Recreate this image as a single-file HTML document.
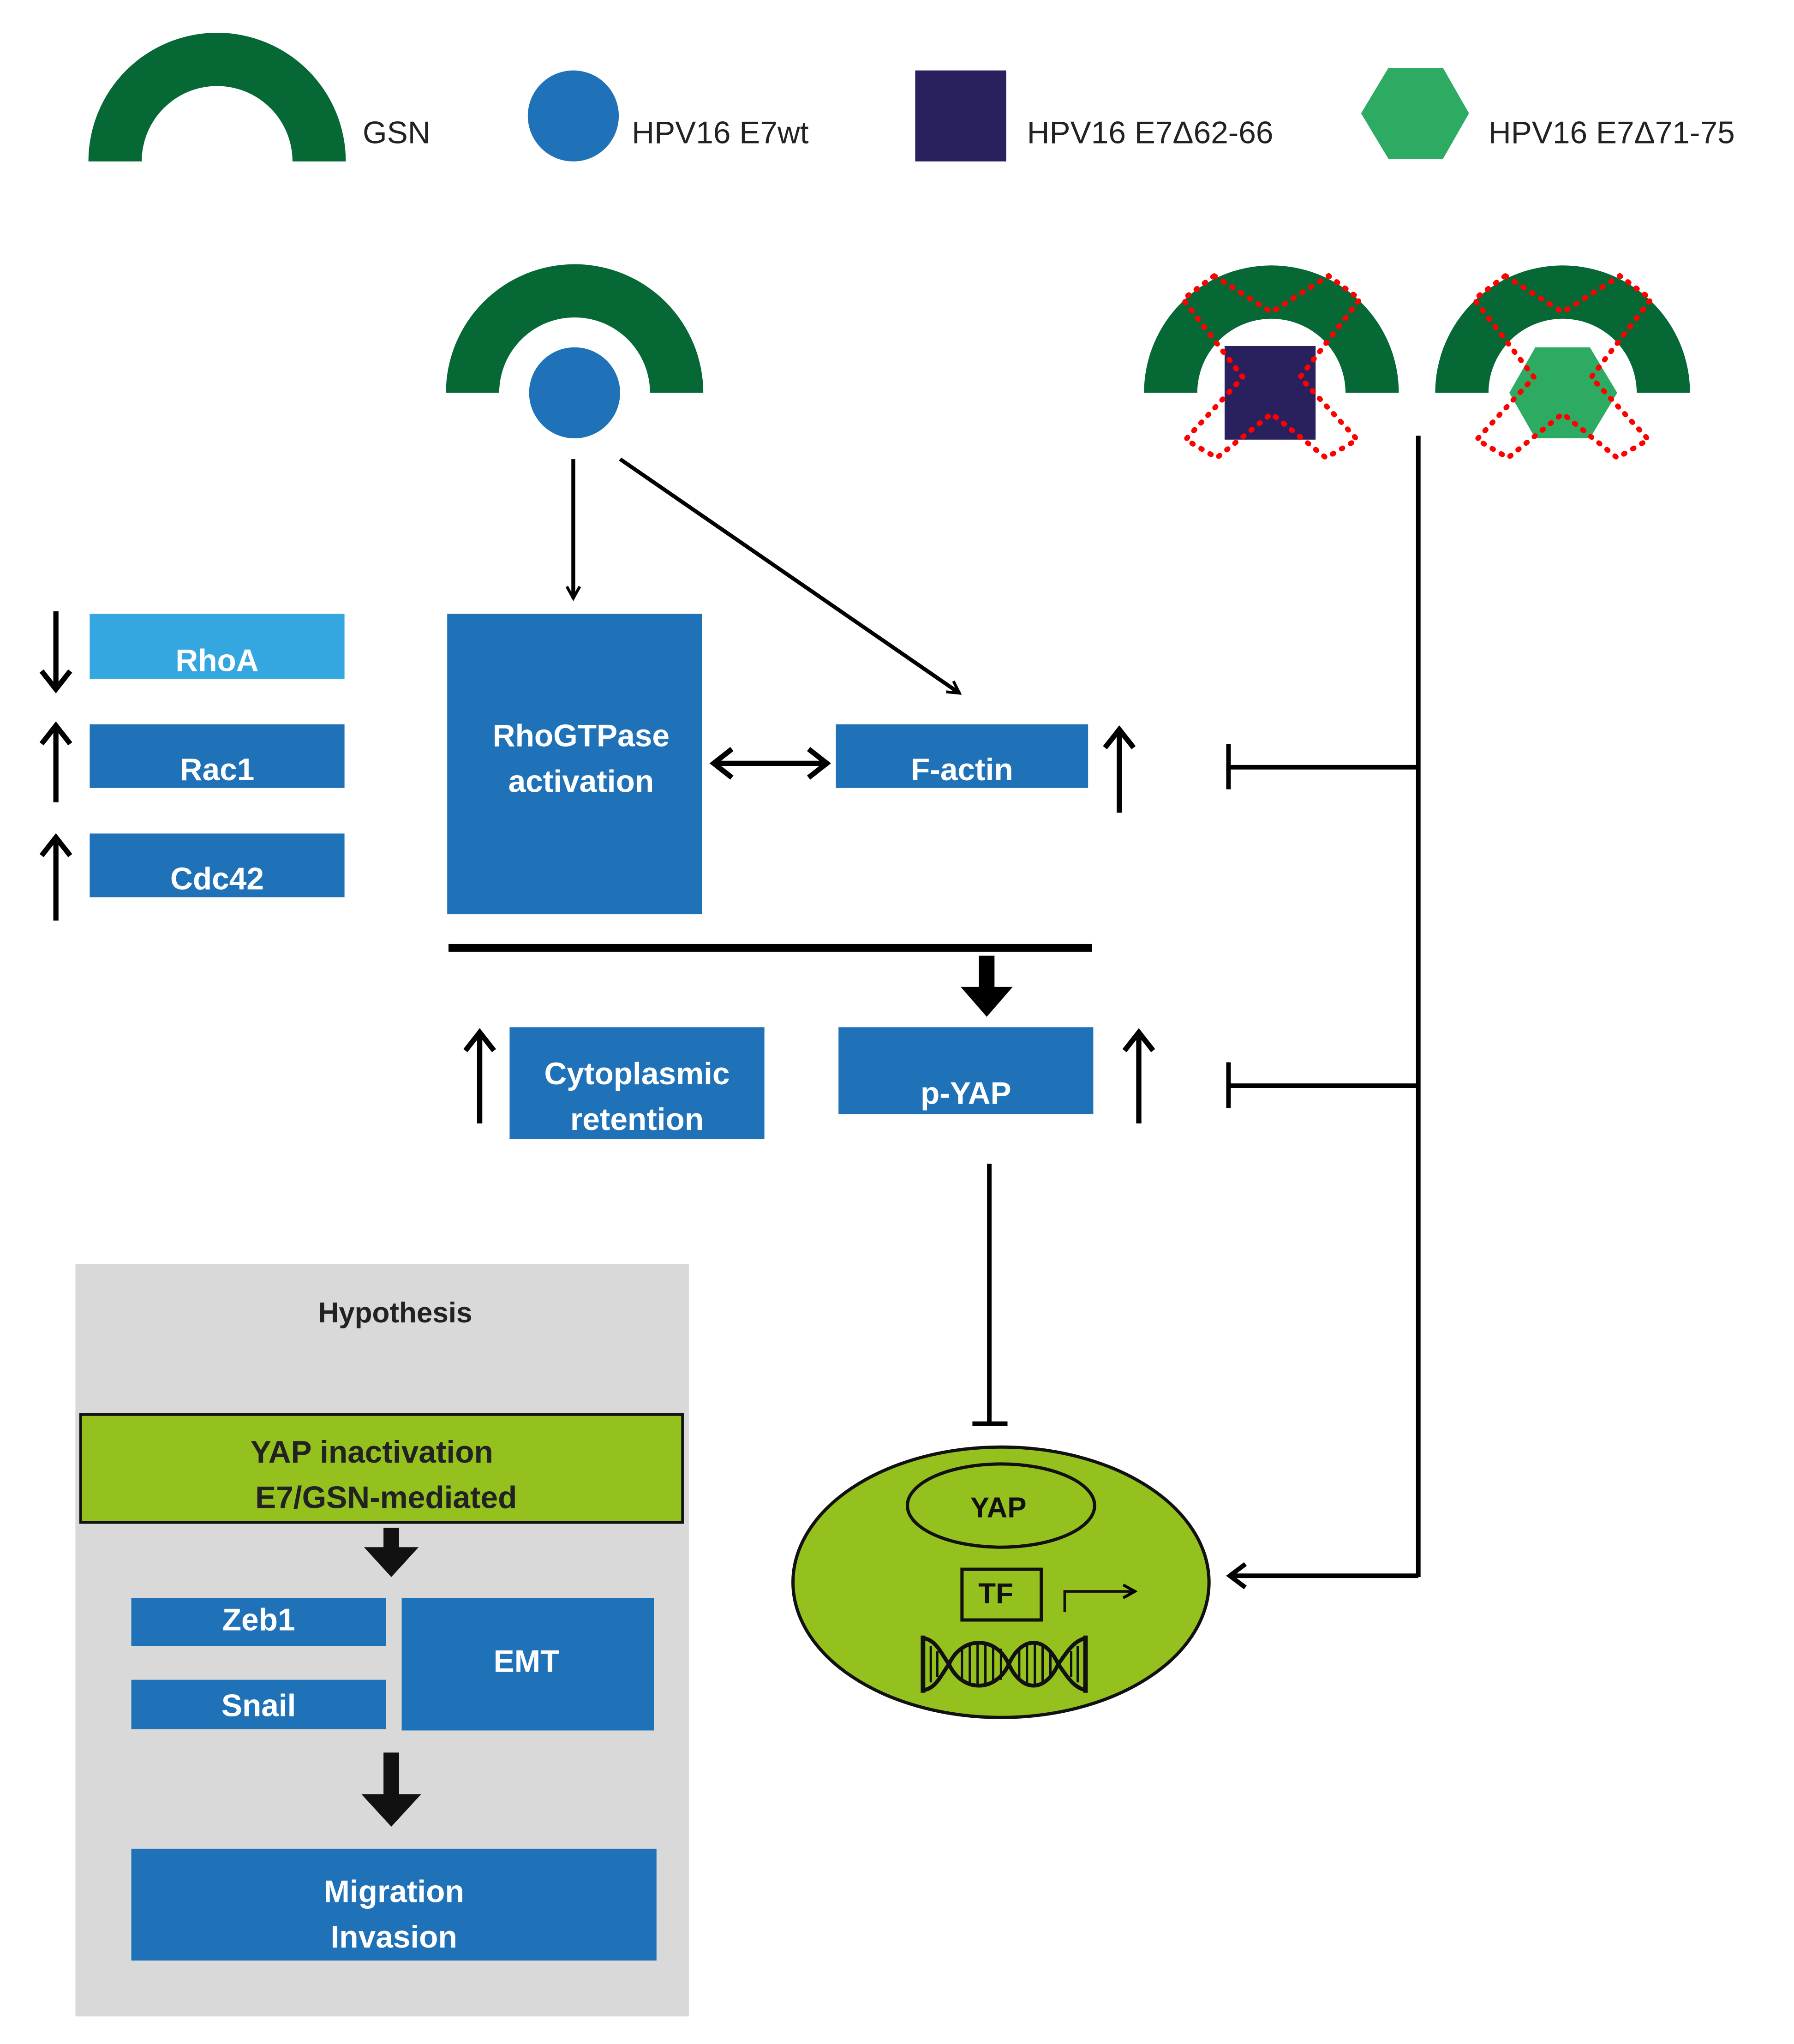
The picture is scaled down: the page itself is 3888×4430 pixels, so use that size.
<!DOCTYPE html>
<html><head><meta charset="utf-8"><style>
html,body{margin:0;padding:0;background:#fff;}
svg{display:block;}
text{font-family:"Liberation Sans",sans-serif;}
.w{fill:#fff;font-weight:bold;font-size:24px;text-anchor:middle;}
.l{fill:#222;font-size:24px;}
</style></head><body>
<svg width="3888" height="4430" viewBox="0 0 1380 1572" xmlns="http://www.w3.org/2000/svg">
<defs>
<marker id="ah" markerWidth="12" markerHeight="12" refX="10" refY="6" orient="auto" markerUnits="userSpaceOnUse"><path d="M1,1 L10,6 L1,11" fill="none" stroke="#000" stroke-width="2.2"/></marker>
</defs>
<!-- legend -->
<path d="M68,124 A99,99 0 0 1 266,124 L225,124 A58,58 0 0 0 109,124 Z" fill="#066835"/>
<text class="l" x="279" y="110">GSN</text>
<circle cx="441" cy="89" r="35" fill="#1f72b8"/>
<text class="l" x="486" y="110">HPV16 E7wt</text>
<rect x="704" y="54" width="70" height="70" fill="#28215e"/>
<text class="l" x="790" y="110">HPV16 E7Δ62-66</text>
<polygon points="1047,87 1068,52 1110,52 1130,87 1110,122 1068,122" fill="#2eab63"/>
<text class="l" x="1145" y="110">HPV16 E7Δ71-75</text>

<!-- main GSN -->
<path d="M343,302 A99,99 0 0 1 541,302 L500,302 A58,58 0 0 0 384,302 Z" fill="#066835"/>
<circle cx="442" cy="302" r="35" fill="#1f72b8"/>
<!-- right GSN -->
<path d="M880,302 A98,98 0 0 1 1076,302 L1035,302 A57,57 0 0 0 921,302 Z" fill="#066835"/>
<rect x="942" y="266" width="70" height="72" fill="#28215e"/>
<path d="M1104,302 A98,98 0 0 1 1300,302 L1259,302 A57,57 0 0 0 1145,302 Z" fill="#066835"/>
<polygon points="1161,302 1181,267 1223,267 1244,302 1223,337 1181,337" fill="#2eab63"/>
<g fill="none" stroke="#f00" stroke-width="4" stroke-dasharray="1 7" stroke-linecap="round">
<polygon points="934,212 978,240 1022,212 1046,230 1000,290 1044,338 1020,352 978,318 936,352 912,338 956,290 910,230"/>
<polygon points="1158,212 1202,240 1246,212 1270,230 1224,290 1268,338 1244,352 1202,318 1160,352 1136,338 1180,290 1134,230"/>
</g>

<!-- arrows from E7wt -->
<line x1="441" y1="353" x2="441" y2="460" stroke="#000" stroke-width="3" marker-end="url(#ah)"/>
<line x1="477" y1="353" x2="738" y2="533" stroke="#000" stroke-width="3" marker-end="url(#ah)"/>

<!-- left boxes -->
<rect x="69" y="472" width="196" height="50" fill="#35a7e0"/><text class="w" x="167" y="516">RhoA</text>
<rect x="69" y="557" width="196" height="49" fill="#1f72b8"/><text class="w" x="167" y="600">Rac1</text>
<rect x="69" y="641" width="196" height="49" fill="#1f72b8"/><text class="w" x="167" y="684">Cdc42</text>
<g stroke="#000" stroke-width="4" fill="none" stroke-linejoin="miter">
<line x1="43" y1="470" x2="43" y2="530"/><path d="M32,516 L43,530 L54,516"/>
<line x1="43" y1="617" x2="43" y2="558"/><path d="M32,572 L43,558 L54,572"/>
<line x1="43" y1="708" x2="43" y2="644"/><path d="M32,658 L43,644 L54,658"/>
<line x1="861" y1="625" x2="861" y2="561"/><path d="M850,575 L861,561 L872,575"/>
<line x1="369" y1="864" x2="369" y2="794"/><path d="M358,808 L369,794 L380,808"/>
<line x1="876" y1="864" x2="876" y2="794"/><path d="M865,808 L876,794 L887,808"/>
<line x1="83" y1="1333" x2="83" y2="1233"/><path d="M72,1247 L83,1233 L94,1247"/>
<line x1="83" y1="1517" x2="83" y2="1423"/><path d="M72,1437 L83,1423 L94,1437"/>
<line x1="549" y1="587" x2="636" y2="587"/><path d="M563,576 L549,587 L563,598"/><path d="M622,576 L636,587 L622,598"/>
</g>

<rect x="344" y="472" width="196" height="231" fill="#1f72b8"/>
<text class="w" x="447" y="574">RhoGTPase</text><text class="w" x="447" y="609">activation</text>
<rect x="643" y="557" width="194" height="49" fill="#1f72b8"/><text class="w" x="740" y="600">F-actin</text>

<rect x="345" y="726" width="495" height="6" fill="#000"/>
<polygon points="753,735 765,735 765,759 779,759 759,782 739,759 753,759" fill="#000"/>

<rect x="392" y="790" width="196" height="86" fill="#1f72b8"/>
<text class="w" x="490" y="834">Cytoplasmic</text><text class="w" x="490" y="869">retention</text>
<rect x="645" y="790" width="196" height="67" fill="#1f72b8"/><text class="w" x="743" y="849">p-YAP</text>

<!-- right inhibition system -->
<g stroke="#000" stroke-width="3.5" fill="none">
<line x1="1091" y1="335" x2="1091" y2="1213"/>
<line x1="945" y1="590" x2="1091" y2="590"/>
<line x1="945" y1="572" x2="945" y2="607"/>
<line x1="945" y1="835" x2="1091" y2="835"/>
<line x1="945" y1="817" x2="945" y2="852"/>
<line x1="1091" y1="1212" x2="946" y2="1212"/>
<path d="M958,1203 L946,1212 L958,1221"/>
<line x1="761" y1="895" x2="761" y2="1095"/>
<line x1="748" y1="1095" x2="775" y2="1095"/>
</g>

<!-- cell -->
<ellipse cx="770" cy="1217" rx="160" ry="104" fill="#95c11f" stroke="#111" stroke-width="2.5"/>
<ellipse cx="770" cy="1158" rx="72" ry="32" fill="none" stroke="#111" stroke-width="2.5"/>
<text x="768" y="1167" font-size="22" font-weight="bold" text-anchor="middle" fill="#111">YAP</text>
<rect x="740" y="1207" width="61" height="39" fill="none" stroke="#111" stroke-width="2.5"/>
<text x="766" y="1233" font-size="22" font-weight="bold" text-anchor="middle" fill="#111">TF</text>
<path d="M819,1240 V1224 H873" fill="none" stroke="#111" stroke-width="2" marker-end="url(#ah)"/>
<g fill="none" stroke="#111" stroke-width="3">
<path d="M710,1260 C720,1261 724,1272 730,1280 C724,1288 720,1299 710,1300"/>
<path d="M730,1280 C740,1258 766,1258 776,1280 C766,1302 740,1302 730,1280 Z"/>
<path d="M776,1280 C786,1258 804,1258 814,1280 C804,1302 786,1302 776,1280 Z"/>
<path d="M836,1260 C826,1261 820,1272 814,1280 C820,1288 826,1299 836,1300"/>
<path d="M710,1258 V1302 M835,1258 V1302" stroke-width="3.5"/>
<path d="M716,1266 V1294 M721,1270 V1290 M740,1268 V1292 M746,1265 V1295 M752,1264 V1296 M758,1264 V1296 M764,1265 V1295 M770,1268 V1292 M784,1268 V1292 M790,1265 V1295 M796,1264 V1296 M802,1265 V1295 M808,1269 V1291 M824,1270 V1290 M829,1266 V1294" stroke-width="1.8"/>
</g>

<!-- Hypothesis panel -->
<rect x="58" y="972" width="472" height="579" fill="#d9d9d9"/>
<text x="304" y="1017" font-size="22" font-weight="bold" text-anchor="middle" fill="#222">Hypothesis</text>
<rect x="62" y="1088" width="463" height="83" fill="#95c11f" stroke="#111" stroke-width="2"/>
<text x="286" y="1125" font-size="24" font-weight="bold" text-anchor="middle" fill="#222">YAP inactivation</text>
<text x="297" y="1160" font-size="24" font-weight="bold" text-anchor="middle" fill="#222">E7/GSN-mediated</text>
<polygon points="295,1175 307,1175 307,1190 322,1190 301,1213 280,1190 295,1190" fill="#111"/>
<rect x="101" y="1229" width="196" height="37" fill="#1f72b8"/><text class="w" x="199" y="1254">Zeb1</text>
<rect x="101" y="1292" width="196" height="38" fill="#1f72b8"/><text class="w" x="199" y="1320">Snail</text>
<rect x="309" y="1229" width="194" height="102" fill="#1f72b8"/><text class="w" x="405" y="1286">EMT</text>
<polygon points="295,1348 307,1348 307,1380 324,1380 301,1405 278,1380 295,1380" fill="#111"/>
<rect x="101" y="1422" width="404" height="86" fill="#1f72b8"/>
<text class="w" x="303" y="1463">Migration</text><text class="w" x="303" y="1498">Invasion</text>
</svg>
</body></html>
